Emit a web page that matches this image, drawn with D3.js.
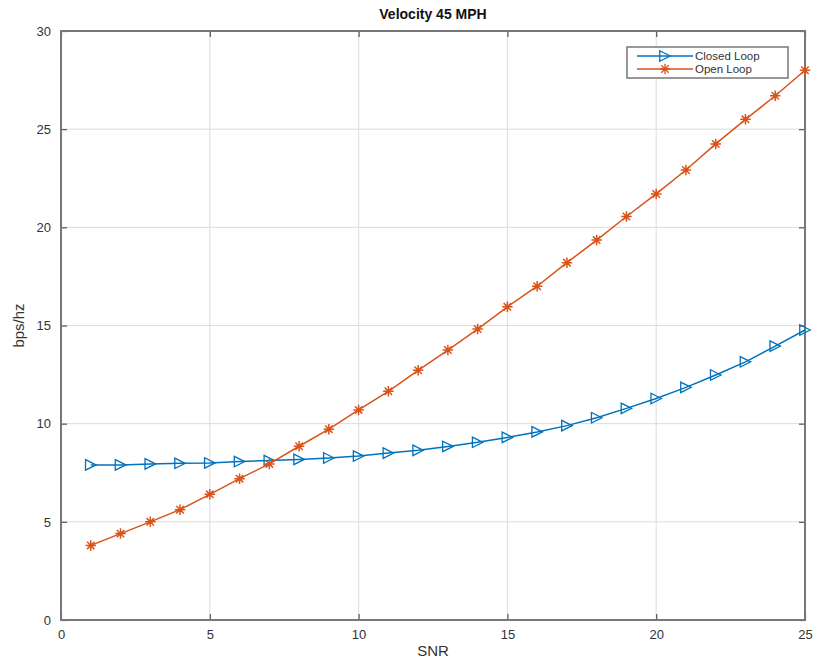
<!DOCTYPE html>
<html>
<head>
<meta charset="utf-8">
<script src="https://cdn.jsdelivr.net/npm/d3@7"></script>
<style>
  body { margin: 0; background: #fff; }
  text { font-family: "Liberation Sans", Arial, sans-serif; }
</style>
</head>
<body>
<div id="chart"></div>
<script>
// chart data
const snr = [1, 2, 3, 4, 5, 6, 7, 8, 9, 10, 11, 12, 13, 14, 15, 16, 17, 18, 19, 20, 21, 22, 23, 24, 25];
const closedLoop = [7.9, 7.9, 7.95, 7.98, 8.0, 8.07, 8.12, 8.18, 8.25, 8.35, 8.5, 8.64, 8.84, 9.05, 9.3, 9.58, 9.9, 10.3, 10.78, 11.28, 11.85, 12.48, 13.15, 13.95, 14.77];
const openLoop = [3.8, 4.4, 5.0, 5.62, 6.4, 7.2, 7.95, 8.85, 9.72, 10.7, 11.65, 12.72, 13.75, 14.82, 15.95, 17.0, 18.2, 19.35, 20.55, 21.7, 22.92, 24.25, 25.5, 26.7, 28.0];
const xTicks = [0, 5, 10, 15, 20, 25];
const yTicks = [0, 5, 10, 15, 20, 25, 30];
const seriesNames = ["Closed Loop", "Open Loop"];

const width = 817, height = 663;
const margin = { left: 61, right: 12, top: 31, bottom: 43 };
const blue = "#0072BD", orange = "#D95319";

const svg = d3.select("#chart").append("svg")
  .attr("width", width)
  .attr("height", height);

const x = d3.scaleLinear().domain([0, 25]).range([margin.left, width - margin.right]);
const y = d3.scaleLinear().domain([0, 30]).range([height - margin.bottom, margin.top]);

// grid
svg.append("g").selectAll("line").data(xTicks.slice(1, -1)).enter().append("line")
  .attr("x1", d => x(d)).attr("x2", d => x(d))
  .attr("y1", y(0)).attr("y2", y(30))
  .attr("stroke", "#dcdcdc").attr("stroke-width", 1);
svg.append("g").selectAll("line").data(yTicks.slice(1, -1)).enter().append("line")
  .attr("x1", x(0)).attr("x2", x(25))
  .attr("y1", d => y(d)).attr("y2", d => y(d))
  .attr("stroke", "#dcdcdc").attr("stroke-width", 1);

// axes (ticks inward, like matlab)
function styleAxis(g) {
  g.select(".domain").remove();
  g.selectAll(".tick line").attr("stroke", "#555").attr("stroke-width", 1.2);
  g.selectAll(".tick text").attr("fill", "#333").style("font-size", "13px");
}
svg.append("g")
  .attr("transform", `translate(0,${y(0)})`)
  .call(d3.axisBottom(x).tickValues(xTicks).tickSizeInner(-6).tickSizeOuter(0).tickPadding(10))
  .call(styleAxis);
svg.append("g")
  .attr("transform", `translate(0,${y(30)})`)
  .call(d3.axisTop(x).tickValues(xTicks).tickSizeInner(-6).tickSizeOuter(0).tickFormat(""))
  .call(styleAxis);
svg.append("g")
  .attr("transform", `translate(${x(0)},0)`)
  .call(d3.axisLeft(y).tickValues(yTicks).tickSizeInner(-6).tickSizeOuter(0).tickPadding(10))
  .call(styleAxis);
svg.append("g")
  .attr("transform", `translate(${x(25)},0)`)
  .call(d3.axisRight(y).tickValues(yTicks).tickSizeInner(-6).tickSizeOuter(0).tickFormat(""))
  .call(styleAxis);

// box
svg.append("rect")
  .attr("x", x(0)).attr("y", y(30))
  .attr("width", x(25) - x(0)).attr("height", y(0) - y(30))
  .attr("fill", "none").attr("stroke", "#777").attr("stroke-width", 2);

// markers
const tri = d3.symbol().type({
  draw(ctx, size) {
    const r = Math.sqrt(size) / 2;
    ctx.moveTo(r, 0);
    ctx.lineTo(-r, -r);
    ctx.lineTo(-r, r);
    ctx.closePath();
  }
}).size(110);
const star = d3.symbol().type({
  draw(ctx, size) {
    const r = Math.sqrt(size) / 2;
    for (let i = 0; i < 4; i++) {
      const a = i * Math.PI / 4;
      ctx.moveTo(-r * Math.cos(a), -r * Math.sin(a));
      ctx.lineTo(r * Math.cos(a), r * Math.sin(a));
    }
  }
}).size(110);

const line = d3.line().x((d, i) => x(snr[i])).y(d => y(d));

svg.append("path").datum(closedLoop)
  .attr("d", line).attr("fill", "none").attr("stroke", blue).attr("stroke-width", 1.5);
svg.append("g").selectAll("path").data(closedLoop).enter().append("path")
  .attr("d", tri)
  .attr("transform", (d, i) => `translate(${x(snr[i])},${y(d)})`)
  .attr("fill", "none").attr("stroke", blue).attr("stroke-width", 1.3);

svg.append("path").datum(openLoop)
  .attr("d", line).attr("fill", "none").attr("stroke", orange).attr("stroke-width", 1.5);
svg.append("g").selectAll("path").data(openLoop).enter().append("path")
  .attr("d", star)
  .attr("transform", (d, i) => `translate(${x(snr[i])},${y(d)})`)
  .attr("fill", "none").attr("stroke", orange).attr("stroke-width", 1.5);

// title and labels
svg.append("text")
  .attr("x", (x(0) + x(25)) / 2).attr("y", 19)
  .attr("text-anchor", "middle")
  .style("font-size", "14px").style("font-weight", "bold")
  .attr("fill", "#111")
  .text("Velocity 45 MPH");
svg.append("text")
  .attr("x", (x(0) + x(25)) / 2).attr("y", 656)
  .attr("text-anchor", "middle")
  .style("font-size", "15px").attr("fill", "#333")
  .text("SNR");
svg.append("text")
  .attr("transform", `translate(24,${(y(0) + y(30)) / 2}) rotate(-90)`)
  .attr("text-anchor", "middle")
  .style("font-size", "15px").attr("fill", "#333")
  .text("bps/hz");

// legend
const legend = svg.append("g").attr("transform", "translate(627,47)");
legend.append("rect")
  .attr("width", 161).attr("height", 31)
  .attr("fill", "#fff").attr("stroke", "#777").attr("stroke-width", 1.5);
const rows = legend.selectAll("g").data(seriesNames).enter().append("g")
  .attr("transform", (d, i) => `translate(0,${9 + i * 13})`);
rows.append("line")
  .attr("x1", 10).attr("x2", 66)
  .attr("stroke", (d, i) => i ? orange : blue).attr("stroke-width", 1.5);
rows.append("path")
  .attr("d", (d, i) => i ? star() : tri())
  .attr("transform", "translate(38,0)")
  .attr("fill", "none")
  .attr("stroke", (d, i) => i ? orange : blue).attr("stroke-width", 1.3);
rows.append("text")
  .attr("x", 68).attr("y", 4)
  .style("font-size", "11.5px").attr("fill", "#333")
  .text(d => d);
</script>
</body>
</html>
